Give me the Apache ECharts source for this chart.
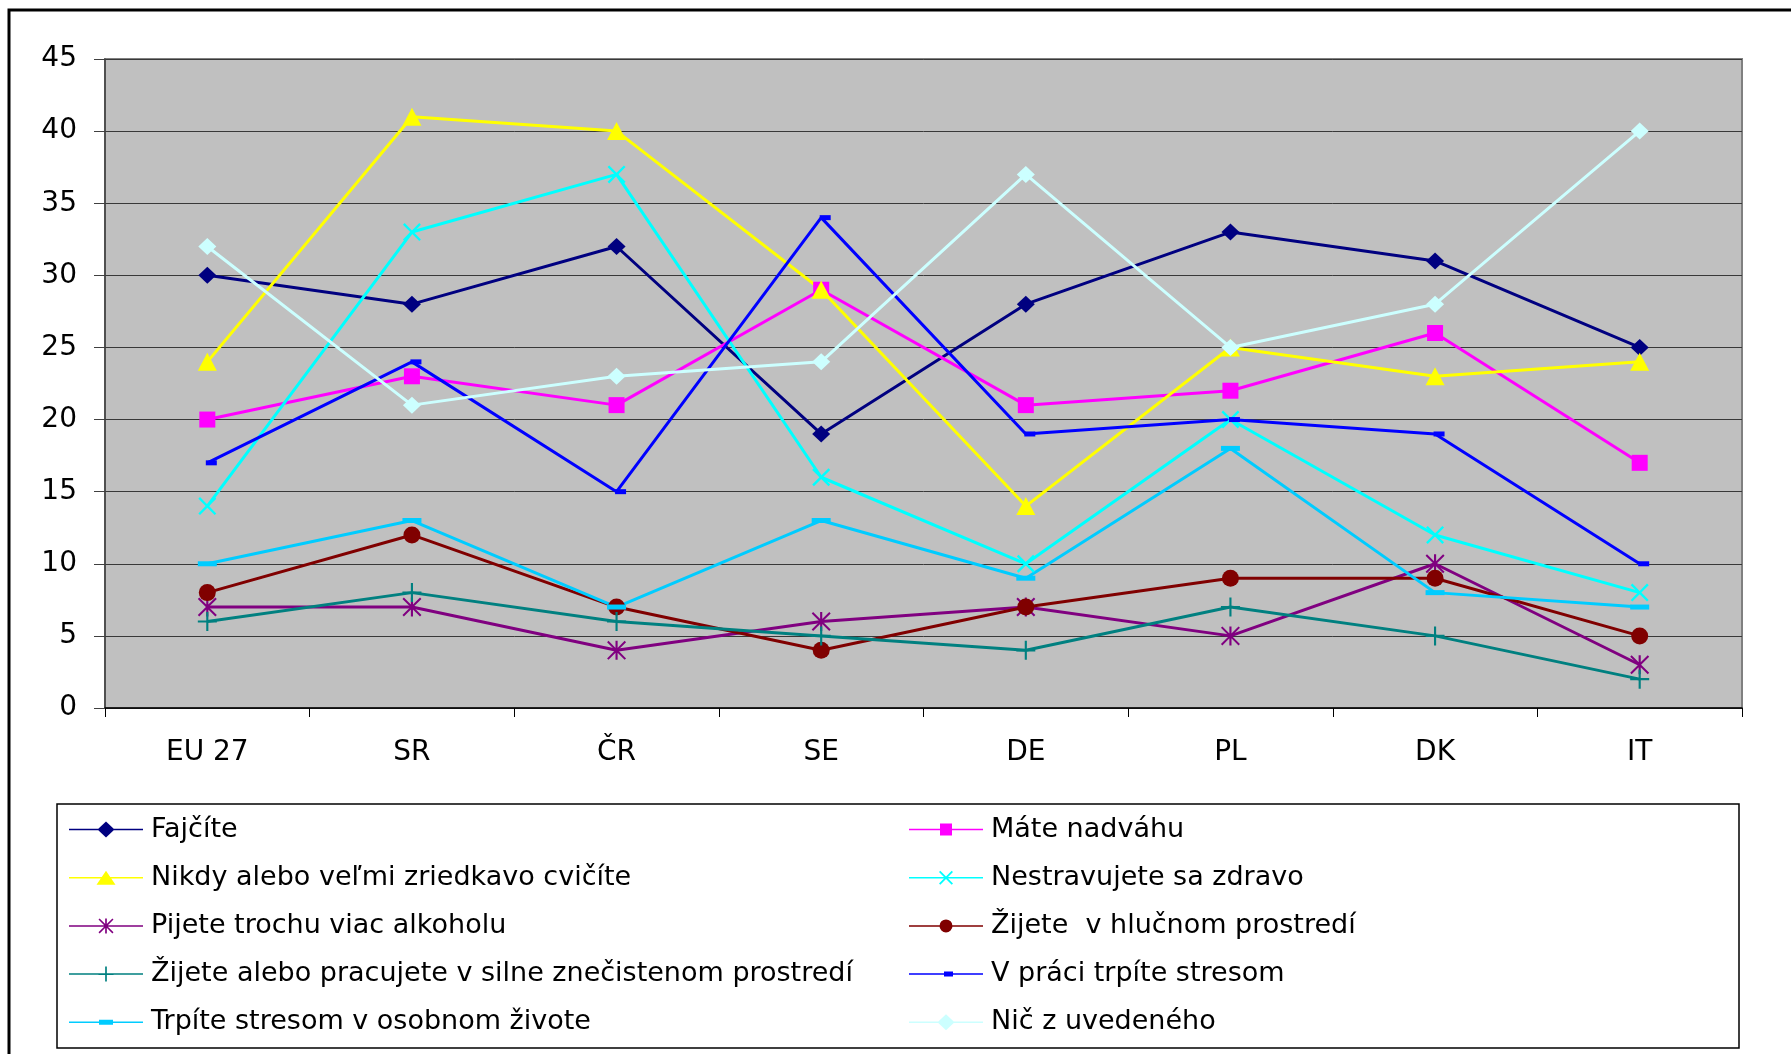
<!DOCTYPE html>
<html>
<head>
<meta charset="utf-8">
<script src="https://cdn.jsdelivr.net/npm/echarts@6/dist/echarts.min.js"></script>
<style>
  html, body { margin: 0; padding: 0; background: #ffffff; }
  #chart { width: 1791px; height: 1054px; }
</style>
</head>
<body>
<div id="chart"></div>
<script>
// Categories (countries) and series values (% of respondents)
const categories = ['EU 27', 'SR', 'ČR', 'SE', 'DE', 'PL', 'DK', 'IT'];

const fajcite        = [30, 28, 32, 19, 28, 33, 31, 25];
const nadvaha        = [20, 23, 21, 29, 21, 22, 26, 17];
const necvicite      = [24, 41, 40, 29, 14, 25, 23, 24];
const nestravujete   = [14, 33, 37, 16, 10, 20, 12, 8];
const alkohol        = [7, 7, 4, 6, 7, 5, 10, 3];
const hluk           = [8, 12, 7, 4, 7, 9, 9, 5];
const znecistenie    = [6, 8, 6, 5, 4, 7, 5, 2];
const stresPraca     = [17, 24, 15, 34, 19, 20, 19, 10];
const stresOsobny    = [10, 13, 7, 13, 9, 18, 8, 7];
const nicZUvedeneho  = [32, 21, 23, 24, 37, 25, 28, 40];

const yMin = 0, yMax = 45, yStep = 5;

// Marker outlines in a 16x16 box (all drawn clockwise so overlaps stay filled)
const X_PTS = [[0,1.5],[1.5,0],[8,6.5],[14.5,0],[16,1.5],[9.5,8],[16,14.5],[14.5,16],[8,9.5],[1.5,16],[0,14.5],[6.5,8]];
const XT_PTS = [[0,1.2],[1.2,0],[8,6.8],[14.8,0],[16,1.2],[9.2,8],[16,14.8],[14.8,16],[8,9.2],[1.2,16],[0,14.8],[6.8,8]];
const VBAR_PTS = [[7.1,0],[8.9,0],[8.9,16],[7.1,16]];
const PLUS_PTS = [[7.1,0],[8.9,0],[8.9,7.1],[16,7.1],[16,8.9],[8.9,8.9],[8.9,16],[7.1,16],[7.1,8.9],[0,8.9],[0,7.1],[7.1,7.1]];
const DIAMOND_PTS = [[8,0],[16,8],[8,16],[0,8]];
const TRI_PTS = [[8,0],[16,16],[0,16]];
const SQUARE_PTS = [[0,0],[16,0],[16,16],[0,16]];

function poly(pts, cx, cy, sx, sy) {
  const kx = sx / 16, ky = (sy === undefined ? sx : sy) / 16;
  return 'M' + pts.map(p => (cx + (p[0] - 8) * kx).toFixed(2) + ',' + (cy + (p[1] - 8) * ky).toFixed(2)).join('L') + 'Z';
}
function circle(cx, cy, r) {
  return 'M' + cx + ',' + (cy - r) + 'A' + r + ',' + r + ',0,1,1,' + cx + ',' + (cy + r) +
         'A' + r + ',' + r + ',0,1,1,' + cx + ',' + (cy - r) + 'Z';
}

const SYM_X = 'path://' + poly(X_PTS, 8, 8, 16);
const SYM_STAR = 'path://' + poly(XT_PTS, 8, 8, 16) + poly(VBAR_PTS, 8, 8, 16);
const SYM_PLUS = 'path://' + poly(PLUS_PTS, 8, 8, 16);

// Legend icons: a thin line with the series marker in the middle
const IW = 74, IH = 18, IC = 9;
const LINE = 'M0,8.25H74V9.75H0Z';
const MID = IW / 2;
function legendIcon(marker) { return 'path://' + LINE + marker; }

const seriesDefs = [
  { name: 'Fajčíte', data: fajcite, color: '#000080', symbol: 'diamond', size: [18, 17],
    icon: legendIcon(poly(DIAMOND_PTS, MID, IC, 17, 16)) },
  { name: 'Máte nadváhu', data: nadvaha, color: '#FF00FF', symbol: 'rect', size: 16,
    icon: legendIcon(poly(SQUARE_PTS, MID, IC, 12)) },
  { name: 'Nikdy alebo veľmi zriedkavo cvičíte', data: necvicite, color: '#FFFF00', symbol: 'triangle', size: [19, 18],
    icon: legendIcon(poly(TRI_PTS, MID, IC, 19, 14)) },
  { name: 'Nestravujete sa zdravo', data: nestravujete, color: '#00FFFF', symbol: SYM_X, size: 18,
    icon: legendIcon(poly(X_PTS, MID, IC, 14)) },
  { name: 'Pijete trochu viac alkoholu', data: alkohol, color: '#800080', symbol: SYM_STAR, size: 19,
    icon: legendIcon(poly(XT_PTS, MID, IC, 15) + poly(VBAR_PTS, MID, IC, 15)) },
  { name: 'Žijete  v hlučnom prostredí', data: hluk, color: '#800000', symbol: 'circle', size: 17,
    icon: legendIcon(circle(MID, IC, 6.5)) },
  { name: 'Žijete alebo pracujete v silne znečistenom prostredí', data: znecistenie, color: '#008080', symbol: SYM_PLUS, size: 19,
    icon: legendIcon(poly(PLUS_PTS, MID, IC, 15)) },
  { name: 'V práci trpíte stresom', data: stresPraca, color: '#0000FF', symbol: 'rect', size: [11, 5], offset: [4, 0],
    icon: legendIcon('M' + (MID - 2) + ',6.5H' + (MID + 7) + 'V11.5H' + (MID - 2) + 'Z') },
  { name: 'Trpíte stresom v osobnom živote', data: stresOsobny, color: '#00CCFF', symbol: 'rect', size: [19, 5],
    icon: legendIcon('M' + (MID - 7) + ',6.5H' + (MID + 7) + 'V11.5H' + (MID - 7) + 'Z') },
  { name: 'Nič z uvedeného', data: nicZUvedeneho, color: '#CCFFFF', symbol: 'diamond', size: [18, 17],
    icon: legendIcon(poly(DIAMOND_PTS, MID, IC, 17, 16)) }
];

const leftItems = [0, 2, 4, 6, 8].map(i => seriesDefs[i]);
const rightItems = [1, 3, 5, 7, 9].map(i => seriesDefs[i]);

const FONT = 'DejaVu Sans';
const legendBase = {
  orient: 'vertical',
  top: 816,
  itemWidth: IW,
  itemHeight: IH,
  itemGap: 21.2,
  padding: 0,
  selectedMode: false,
  symbolKeepAspect: true,
  itemStyle: { borderWidth: 0 },
  textStyle: { fontFamily: FONT, fontSize: 27, lineHeight: 27, color: '#000000', padding: [0, 0, 0, 3] }
};

const chart = echarts.init(document.getElementById('chart'), null, { renderer: 'canvas' });

chart.setOption({
  animation: false,
  backgroundColor: '#ffffff',
  grid: {
    left: 105, top: 59, right: 49, bottom: 346,
    show: true,
    backgroundColor: '#C0C0C0',
    borderColor: '#808080',
    borderWidth: 2
  },
  xAxis: {
    type: 'category',
    data: categories,
    boundaryGap: true,
    axisLine: { show: true, lineStyle: { color: '#000000', width: 1.5 } },
    axisTick: { show: true, length: 9, inside: false, lineStyle: { color: '#000000', width: 1 } },
    axisLabel: { margin: 31, fontFamily: FONT, fontSize: 28, color: '#000000' },
    splitLine: { show: false }
  },
  yAxis: {
    type: 'value',
    min: yMin, max: yMax, interval: yStep,
    axisLine: { show: true, lineStyle: { color: '#404040', width: 1.5 } },
    axisTick: { show: true, length: 11, inside: false, lineStyle: { color: '#404040', width: 1 } },
    axisLabel: { margin: 28, fontFamily: FONT, fontSize: 28, color: '#000000' },
    splitLine: { show: true, lineStyle: { color: '#383838', width: 1 } }
  },
  legend: [
    Object.assign({}, legendBase, { left: 69, data: leftItems.map(s => ({ name: s.name, icon: s.icon })) }),
    Object.assign({}, legendBase, { left: 909, data: rightItems.map(s => ({ name: s.name, icon: s.icon })) })
  ],
  series: seriesDefs.map(s => ({
    name: s.name,
    type: 'line',
    data: s.data,
    symbol: s.symbol,
    symbolSize: s.size,
    symbolOffset: s.offset || [0, 0],
    showAllSymbol: true,
    lineStyle: { color: s.color, width: 3 },
    itemStyle: { color: s.color, borderWidth: 0 },
    emphasis: { disabled: true },
    silent: true
  })),
  graphic: [
    { type: 'rect', shape: { x: 9, y: 10, width: 1800, height: 1100 },
      style: { fill: null, stroke: '#000000', lineWidth: 3 }, z: 100 },
    { type: 'rect', shape: { x: 57, y: 804, width: 1682, height: 244 },
      style: { fill: null, stroke: '#000000', lineWidth: 1.5 }, z: 100 }
  ]
});
</script>
</body>
</html>
